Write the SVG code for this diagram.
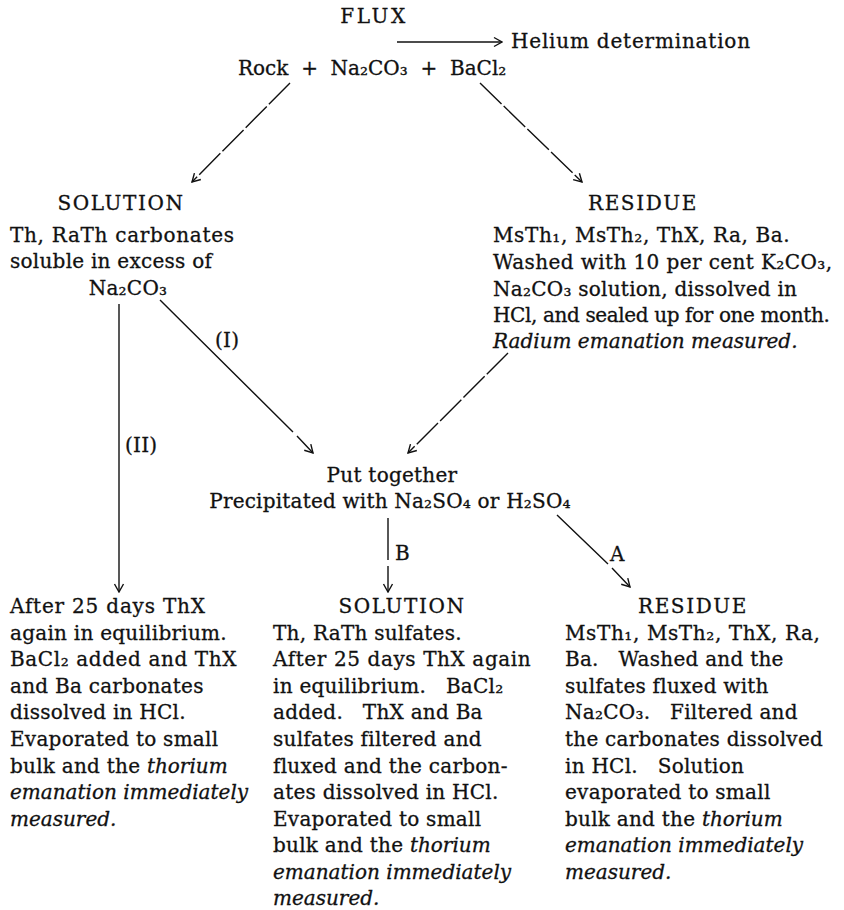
<svg xmlns="http://www.w3.org/2000/svg" width="844" height="910" viewBox="0 0 844 910">
<style>
text{font-family:"DejaVu Serif","Liberation Serif",serif;font-size:20px;fill:#111;stroke:#111;stroke-width:0.3;white-space:pre;letter-spacing:0.25px}
.c{text-anchor:middle}
.i{font-style:italic;letter-spacing:0}
.h{letter-spacing:1.6px}
.ln{stroke:#111;stroke-width:1.4;fill:none}
.dash{stroke-dasharray:30 3}
</style>
<defs>
<marker id="ah" viewBox="-9 -6 10 12" markerWidth="10" markerHeight="12" refX="0" refY="0" orient="auto" markerUnits="userSpaceOnUse">
<path d="M-8,-4.5 L0,0 L-8,4.5" fill="none" stroke="#111" stroke-width="1.4"/>
</marker>
</defs>
<rect width="844" height="910" fill="#fff"/>
<g id="connectors">
<line class="ln" x1="397" y1="42" x2="502" y2="42" marker-end="url(#ah)"/>
<line class="ln dash" x1="290" y1="83" x2="192" y2="182" marker-end="url(#ah)"/>
<line class="ln dash" x1="480" y1="83" x2="582" y2="182" marker-end="url(#ah)"/>
<line class="ln" x1="119" y1="304" x2="119" y2="592" marker-end="url(#ah)"/>
<path class="ln" d="M160,300 L293,432 M297,436 L313,453" marker-end="url(#ah)"/>
<line class="ln dash" x1="508" y1="353" x2="408" y2="453" marker-end="url(#ah)"/>
<path class="ln" d="M388,518 L388,560 M388,566 L388,592" marker-end="url(#ah)"/>
<path class="ln" d="M557,515 L608,564 M612,568 L630,587" marker-end="url(#ah)"/>
<text x="215" y="347">(I)</text>
<text x="125" y="452">(II)</text>
<text x="395" y="560">B</text>
<text x="610" y="561">A</text>
</g>
<g id="flux">
<text class="c" x="374" y="23" style="letter-spacing:2.6px">FLUX</text>
<text x="238" y="75" style="letter-spacing:0">Rock  +  Na₂CO₃  +  BaCl₂</text>
</g>
<g id="helium">
<text x="511" y="48" style="letter-spacing:0.8px">Helium determination</text>
</g>
<g id="solution1">
<text class="c h" x="121" y="210">SOLUTION</text>
<text x="10" y="242" style="letter-spacing:0.7px">Th, RaTh carbonates</text>
<text x="10" y="268">soluble in excess of</text>
<text class="c" x="128" y="295">Na₂CO₃</text>
</g>
<g id="residue1">
<text class="c h" x="643" y="210">RESIDUE</text>
<text x="493" y="242" style="letter-spacing:0.6px">MsTh₁, MsTh₂, ThX, Ra, Ba.</text>
<text x="493" y="269" style="letter-spacing:0.4px">Washed with 10 per cent K₂CO₃,</text>
<text x="493" y="296">Na₂CO₃ solution, dissolved in</text>
<text x="493" y="322" textLength="337" lengthAdjust="spacing">HCl, and sealed up for one month.</text>
<text class="i" x="493" y="348">Radium emanation measured.</text>
</g>
<g id="puttogether">
<text class="c" x="392" y="482">Put together</text>
<text class="c" x="390" y="508" style="letter-spacing:0.2px">Precipitated with Na₂SO₄ or H₂SO₄</text>
</g>
<g id="left-branch">
<text x="10" y="613" style="letter-spacing:0.8px">After 25 days ThX</text>
<text x="10" y="640">again in equilibrium.</text>
<text x="10" y="666" style="letter-spacing:0.6px">BaCl₂ added and ThX</text>
<text x="10" y="693">and Ba carbonates</text>
<text x="10" y="719">dissolved in HCl.</text>
<text x="10" y="746">Evaporated to small</text>
<text x="10" y="773">bulk and the <tspan class="i">thorium</tspan></text>
<text class="i" x="10" y="799">emanation immediately</text>
<text class="i" x="10" y="826">measured.</text>
</g>
<g id="solution2">
<text class="c h" x="402" y="613">SOLUTION</text>
<text x="273" y="640">Th, RaTh sulfates.</text>
<text x="273" y="666" style="letter-spacing:0.6px">After 25 days ThX again</text>
<text x="273" y="693">in equilibrium.   BaCl₂</text>
<text x="273" y="719">added.   ThX and Ba</text>
<text x="273" y="746">sulfates filtered and</text>
<text x="273" y="773">fluxed and the carbon-</text>
<text x="273" y="799">ates dissolved in HCl.</text>
<text x="273" y="826">Evaporated to small</text>
<text x="273" y="852">bulk and the <tspan class="i">thorium</tspan></text>
<text class="i" x="273" y="879">emanation immediately</text>
<text class="i" x="273" y="905">measured.</text>
</g>
<g id="residue2">
<text class="c h" x="693" y="613">RESIDUE</text>
<text x="565" y="640" style="letter-spacing:0.6px">MsTh₁, MsTh₂, ThX, Ra,</text>
<text x="565" y="666">Ba.   Washed and the</text>
<text x="565" y="693">sulfates fluxed with</text>
<text x="565" y="719">Na₂CO₃.   Filtered and</text>
<text x="565" y="746">the carbonates dissolved</text>
<text x="565" y="773">in HCl.   Solution</text>
<text x="565" y="799">evaporated to small</text>
<text x="565" y="826">bulk and the <tspan class="i">thorium</tspan></text>
<text class="i" x="565" y="852">emanation immediately</text>
<text class="i" x="565" y="879">measured.</text>
</g>
</svg>
